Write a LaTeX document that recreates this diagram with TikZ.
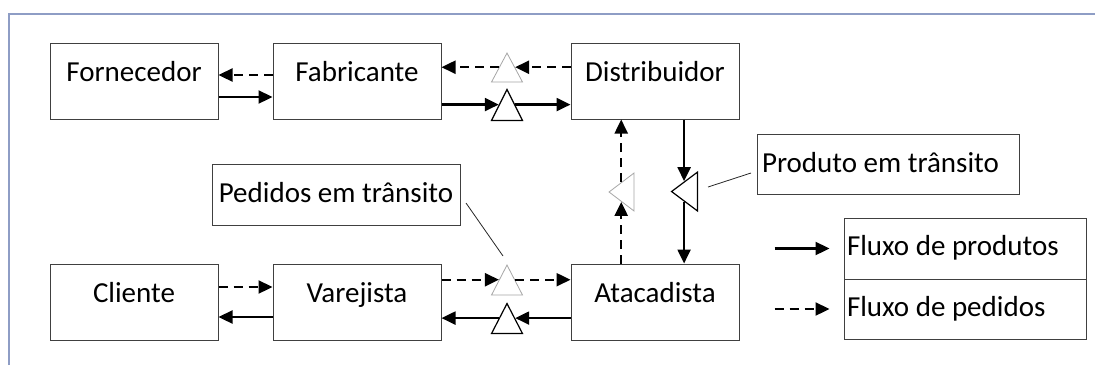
\documentclass[tikz,border=0pt]{standalone}
\usepackage{fontspec}
\setmainfont{Carlito}
\usetikzlibrary{arrows.meta,shapes.geometric}
\definecolor{framec}{HTML}{8E9DC5}
\definecolor{boxc}{HTML}{404040}
\tikzset{
  box/.style={draw=boxc, line width=1pt, inner sep=0pt, minimum width=168pt, minimum height=76pt,
    text height=38.5pt, text depth=37.5pt, font=\fontsize{29}{34}\selectfont},
  note/.style={draw=boxc, line width=1pt, inner xsep=5pt, inner ysep=0pt, align=flush left,
    font=\fontsize{29}{34}\selectfont},
  prod/.style={line width=2.3pt, -{Triangle[length=14pt,width=13pt]}},
  ord/.style={prod, dash pattern=on 9pt off 6pt},
  tri/.style={isosceles triangle, isosceles triangle stretches, inner sep=0pt, fill=white},
  trig/.style={tri, draw=gray!70, line width=0.8pt},
  tris/.style={tri, draw=black, line width=1.2pt},
  leader/.style={line width=0.8pt, draw=black!85},
}
\begin{document}
\begin{tikzpicture}[x=1pt, y=-1pt]
\useasboundingbox (0,0) rectangle (1095,365);
\draw[framec, line width=1.5pt] (9,365) -- (9,14) -- (1095,14);

% main boxes
\node[box] (forn) at (134,81) {Fornecedor};
\node[box] (fab)  at (357,81) {Fabricante};
\node[box] (dist) at (655,81) {Distribuidor};
\node[box] (cli)  at (134,302) {Cliente};
\node[box] (var)  at (357,302) {Varejista};
\node[box] (ata)  at (655,302) {Atacadista};

% notes
\node[note, inner xsep=0pt, minimum width=248pt, minimum height=61pt, text height=38pt, text depth=23pt] (ped) at (336,194.5) {Pedidos em trânsito};
\node[note, text width=252pt, minimum height=60pt, text height=38pt, text depth=22pt] (prd) at (888,164) {Produto em trânsito};

% legend
\node[note, inner xsep=3pt, text width=236pt, minimum height=61pt, text height=37pt, text depth=24pt] (lg1) at (965,248.5) {Fluxo de produtos};
\node[note, inner xsep=3pt, text width=236pt, minimum height=60pt, text height=37pt, text depth=23pt] (lg2) at (965,309) {Fluxo de pedidos};

% inventory triangles
\node[trig, shape border rotate=90, minimum width=31pt, minimum height=29pt, anchor=apex] (tA) at (507,52) {};
\node[tris, shape border rotate=90, minimum width=31pt, minimum height=31pt, anchor=apex] (tB) at (507,88) {};
\node[trig, shape border rotate=90, minimum width=31pt, minimum height=30pt, anchor=apex] (tC) at (507,264) {};
\node[tris, shape border rotate=90, minimum width=31pt, minimum height=30pt, anchor=apex] (tD) at (507,302) {};
\node[trig, shape border rotate=180, minimum width=38pt, minimum height=25pt, anchor=apex] (tE) at (608,192) {};
\node[tris, shape border rotate=180, minimum width=39pt, minimum height=26pt, anchor=apex] (tF) at (670,191.5) {};

% top row
\draw[ord]  (fab.west |- 0,75) -- (forn.east |- 0,75);
\draw[prod] (forn.east |- 0,97) -- (fab.west |- 0,97);
\draw[ord]  (dist.west |- tA.right side) -- (tA.right side);
\draw[ord]  (tA.left side) -- (fab.east |- tA.left side);
\draw[prod] (fab.east |- tB.left side) -- (tB.left side);
\draw[prod] (tB.right side) -- (dist.west |- tB.right side);

% bottom row
\draw[ord]  (cli.east |- 0,287) -- (var.west |- 0,287);
\draw[prod] (var.west |- 0,317) -- (cli.east |- 0,317);
\draw[ord]  (var.east |- tC.left side) -- (tC.left side);
\draw[ord]  (tC.right side) -- (ata.west |- tC.right side);
\draw[prod] (ata.west |- tD.right side) -- (tD.right side);
\draw[prod] (tD.left side) -- (var.east |- tD.left side);

% vertical
\draw[ord]  (ata.north -| tE.left side) -- (tE.left side);
\draw[ord]  (tE.right side) -- (dist.south -| tE.right side);
\draw[prod] (dist.south -| tF.right side) -- (tF.right side);
\draw[prod] (tF.left side) -- (ata.north -| tF.left side);

% leaders
\coordinate (pa) at (466,203);
\coordinate (pb) at (503,256);
\coordinate (qa) at (708,187);
\coordinate (qb) at (751,173);
\draw[leader] (pa) -- (pb);
\draw[leader] (qa) -- (qb);

% legend arrows
\draw[prod] ([xshift=-69pt]lg1.west) -- ([xshift=-14pt]lg1.west);
\draw[ord]  ([xshift=-69pt]lg2.west) -- ([xshift=-14pt]lg2.west);
\end{tikzpicture}
\end{document}
